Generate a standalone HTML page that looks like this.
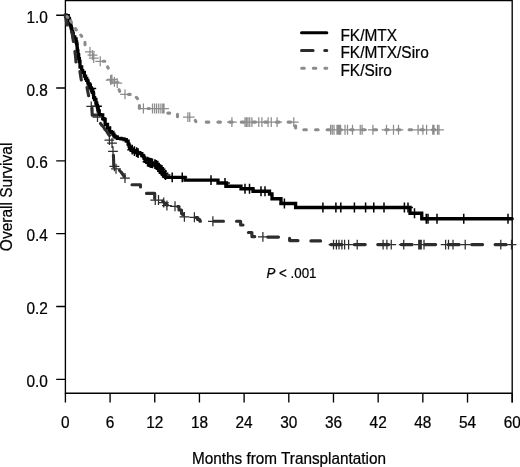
<!DOCTYPE html>
<html><head><meta charset="utf-8"><title>Overall Survival</title>
<style>html,body{margin:0;padding:0;background:#fff}body{width:520px;height:467px;overflow:hidden;position:relative}</style></head>
<body>
<svg width="520" height="467" viewBox="0 0 520 467" style="display:block;position:absolute;left:0;top:0">
<rect width="520" height="467" fill="#fff"/>
<g stroke="#000" stroke-width="1.35" fill="none">
<path d="M65.4 0.55H512.2M65.4 0V393.2H512.2M512.2 0V402.5"/>
<path d="M65.40 393.2V402.5M110.08 393.2V402.5M154.76 393.2V402.5M199.44 393.2V402.5M244.12 393.2V402.5M288.80 393.2V402.5M333.48 393.2V402.5M378.16 393.2V402.5M422.84 393.2V402.5M467.52 393.2V402.5M512.20 393.2V402.5"/>
<path d="M56.2 15.20H65.4M56.2 88.02H65.4M56.2 160.84H65.4M56.2 233.66H65.4M56.2 306.48H65.4M56.2 379.30H65.4"/>
</g>
<g font-family="'Liberation Sans', Arial, Helvetica, sans-serif" fill="#000" stroke="#000" stroke-width="0.22">
<text transform="translate(65.40 428.20) scale(1 1.035)" font-size="15.4" text-anchor="middle">0</text>
<text transform="translate(110.08 428.20) scale(1 1.035)" font-size="15.4" text-anchor="middle">6</text>
<text transform="translate(154.76 428.20) scale(1 1.035)" font-size="15.4" text-anchor="middle">12</text>
<text transform="translate(199.44 428.20) scale(1 1.035)" font-size="15.4" text-anchor="middle">18</text>
<text transform="translate(244.12 428.20) scale(1 1.035)" font-size="15.4" text-anchor="middle">24</text>
<text transform="translate(288.80 428.20) scale(1 1.035)" font-size="15.4" text-anchor="middle">30</text>
<text transform="translate(333.48 428.20) scale(1 1.035)" font-size="15.4" text-anchor="middle">36</text>
<text transform="translate(378.16 428.20) scale(1 1.035)" font-size="15.4" text-anchor="middle">42</text>
<text transform="translate(422.84 428.20) scale(1 1.035)" font-size="15.4" text-anchor="middle">48</text>
<text transform="translate(467.52 428.20) scale(1 1.035)" font-size="15.4" text-anchor="middle">54</text>
<text transform="translate(512.20 428.20) scale(1 1.035)" font-size="15.4" text-anchor="middle">60</text>
<text transform="translate(37.10 22.80) scale(1 1.035)" font-size="15.4" text-anchor="middle">1.0</text>
<text transform="translate(37.10 95.62) scale(1 1.035)" font-size="15.4" text-anchor="middle">0.8</text>
<text transform="translate(37.10 168.44) scale(1 1.035)" font-size="15.4" text-anchor="middle">0.6</text>
<text transform="translate(37.10 241.26) scale(1 1.035)" font-size="15.4" text-anchor="middle">0.4</text>
<text transform="translate(37.10 314.08) scale(1 1.035)" font-size="15.4" text-anchor="middle">0.2</text>
<text transform="translate(37.10 386.90) scale(1 1.035)" font-size="15.4" text-anchor="middle">0.0</text>
<text transform="translate(289.00 463.50) scale(1 1.035)" font-size="15.3" text-anchor="middle">Months from Transplantation</text>
<text transform="translate(12.10 196.90) rotate(-90) scale(1 1.035)" font-size="15.5" text-anchor="middle">Overall Survival</text>
<text transform="translate(340.40 40.90) scale(1 1.035)" font-size="15.45" text-anchor="start">FK/MTX</text>
<text transform="translate(340.40 58.20) scale(1 1.035)" font-size="15.45" text-anchor="start">FK/MTX/Siro</text>
<text transform="translate(340.40 75.50) scale(1 1.035)" font-size="15.45" text-anchor="start">FK/Siro</text>
<text transform="translate(266.40 277.90) scale(1 1.035)" font-size="13.35" text-anchor="start"><tspan font-style="italic">P</tspan> &lt; .001</text>
</g>
<g fill="none" stroke-width="3" stroke-linecap="round">
<path d="M301.5 32.85H326.8" stroke="#000"/>
<path d="M301.5 50.5H326.8" stroke="#2d2d2d" stroke-dasharray="11.6 11.6"/>
<path d="M301.7 68.2H326.8" stroke="#8c8c8c" stroke-dasharray="2.6 9"/>
</g>
<g fill="none" stroke-width="3.1" stroke-linecap="round" stroke-linejoin="round">
<path d="M65.10 15.10 H66.20 V15.60 H67.30 H68.25 V18.50 H69.20 H69.45 V20.30 H69.71 H69.79 V23.90 H69.88 H70.24 V25.00 H70.60 H70.88 V26.80 H71.17 H71.34 V28.60 H71.52 H71.91 V31.50 H72.30 H72.68 V33.30 H73.06 H73.21 V36.90 H73.35 H73.47 V37.00 H73.60 H74.73 V38.80 H75.86 H76.08 V42.00 H76.30 H76.63 V43.80 H76.95 H77.03 V45.60 H77.11 H77.15 V49.00 H77.20 H77.41 V50.80 H77.62 H77.91 V54.40 H78.19 H78.24 V55.00 H78.30 H78.68 V58.60 H79.06 H79.33 V61.50 H79.60 H80.00 V66.90 H80.40 H80.85 V67.00 H81.30 H81.65 V70.60 H82.01 H82.65 V72.50 H83.30 H84.32 V76.10 H85.35 H85.57 V78.50 H85.80 H86.73 V80.30 H87.67 H87.80 V82.10 H87.93 H88.22 V84.00 H88.50 H89.62 V87.60 H90.75 H91.12 V88.80 H91.50 H91.77 V90.60 H92.04 H92.65 V92.40 H93.26 H93.38 V94.00 H93.50 H93.63 V97.60 H93.76 H94.63 V99.50 H95.50 H95.91 V103.10 H96.31 H96.76 V105.50 H97.20 H97.51 V107.30 H97.81 H98.26 V111.00 H98.70 H99.25 V114.60 H99.80 H100.65 V115.00 H101.50 H102.70 V118.60 H103.89 H104.10 V119.50 H104.30 H105.15 V124.50 H106.00 H107.50 V128.00 H109.00 H109.66 V131.60 H110.32 H111.41 V132.30 H112.50 H112.85 V134.10 H113.20 H113.86 V135.90 H114.51 H115.00 V137.00 H115.50 H117.25 V138.30 H119.00 H121.00 V138.80 H123.00 H124.00 V139.70 H125.00 H126.25 V141.20 H127.50 H128.12 V144.20 H128.75 H129.04 V146.00 H129.33 H129.67 V147.45 H130.00 H131.25 V149.20 H132.50 H133.01 V151.00 H133.53 H134.26 V151.20 H135.00 H136.50 V152.70 H138.00 H139.62 V153.70 H141.25 H141.80 V155.50 H142.35 H143.05 V156.20 H143.75 H143.91 V158.00 H144.07 H144.78 V159.20 H145.50 H145.73 V161.00 H145.97 H146.73 V162.45 H147.50 H149.25 V163.20 H151.00 H153.00 V164.95 H155.00 H156.25 V165.70 H157.50 H158.50 V168.20 H159.50 H160.38 V170.50 H161.25 H161.88 V173.00 H162.50 H163.50 V176.00 H164.50 H165.50 V177.30 H166.50 H170.00 V177.30 H185.00 V177.30 H185.00 V180.10 H218.00 V180.10 H218.00 V183.00 H226.50 V183.00 H226.50 V186.25 H241.00 V186.25 H241.00 V188.75 H253.00 V188.75 H253.00 V191.25 H269.50 V191.25 H269.50 V194.00 H272.00 V194.00 H272.00 V198.75 H281.00 V198.75 H281.00 V203.50 H295.60 V203.50 H295.60 V207.50 H410.00 V207.50 H410.00 V213.25 H421.75 V213.25 H421.75 V218.75 H512.20 V218.75" stroke="#000" stroke-width="3.3" stroke-linejoin="miter"/>
</g>
<path d="M86.40 88.50h9.8M91.30 83.60v9.8M92.10 106.30h9.8M97.00 101.40v9.8M127.30 149.70h9.8M132.20 144.80v9.8M129.50 151.20h9.8M134.40 146.30v9.8M131.70 152.20h9.8M136.60 147.30v9.8M133.20 153.20h9.8M138.10 148.30v9.8M142.60 161.70h9.8M147.50 156.80v9.8M143.70 162.20h9.8M148.60 157.30v9.8M144.90 162.60h9.8M149.80 157.70v9.8M146.10 163.00h9.8M151.00 158.10v9.8M147.60 163.40h9.8M152.50 158.50v9.8M150.00 164.20h9.8M154.90 159.30v9.8M151.40 165.00h9.8M156.30 160.10v9.8M152.90 165.70h9.8M157.80 160.80v9.8M154.30 167.70h9.8M159.20 162.80v9.8M155.60 169.20h9.8M160.50 164.30v9.8M157.10 171.20h9.8M162.00 166.30v9.8M158.60 173.20h9.8M163.50 168.30v9.8M160.60 175.00h9.8M165.50 170.10v9.8M167.30 177.30h9.8M172.20 172.40v9.8M177.35 177.30h9.8M182.25 172.40v9.8M206.10 180.10h9.8M211.00 175.20v9.8M220.10 183.00h9.8M225.00 178.10v9.8M240.10 188.75h9.8M245.00 183.85v9.8M244.60 188.75h9.8M249.50 183.85v9.8M256.10 191.25h9.8M261.00 186.35v9.8M260.10 191.25h9.8M265.00 186.35v9.8M279.50 203.50h9.8M284.40 198.60v9.8M318.00 207.50h9.8M322.90 202.60v9.8M331.00 207.50h9.8M335.90 202.60v9.8M335.90 207.50h9.8M340.80 202.60v9.8M349.50 207.50h9.8M354.40 202.60v9.8M360.70 207.50h9.8M365.60 202.60v9.8M368.85 207.50h9.8M373.75 202.60v9.8M379.10 207.50h9.8M384.00 202.60v9.8M399.50 207.50h9.8M404.40 202.60v9.8M403.10 207.50h9.8M408.00 202.60v9.8M409.60 213.25h9.8M414.50 208.35v9.8M421.35 218.75h9.8M426.25 213.85v9.8M423.10 218.75h9.8M428.00 213.85v9.8M432.10 218.75h9.8M437.00 213.85v9.8M458.85 218.75h9.8M463.75 213.85v9.8M503.10 218.75h9.8M508.00 213.85v9.8" stroke="#000" stroke-width="1.5" fill="none"/>
<g fill="none" stroke-width="3.1" stroke-linecap="round" stroke-linejoin="round">
<path d="M65.10 15.10 L66.00 19.00 L67.00 25.00M71.90 32.00 L72.60 36.00 L73.40 41.50M74.90 51.50 L75.50 56.00 L76.00 62.00M79.90 71.50 L81.30 80.00M87.00 87.50 L88.60 95.80M92.00 108.00 L92.20 115.10 L96.30 115.10M100.50 123.50 L102.00 125.50 L103.50 127.00 L105.00 129.50 L106.50 131.00 L108.00 133.50 L109.50 135.50M113.40 155.30 L113.60 160.00 L113.80 166.80M119.50 170.50 L121.00 172.00 L122.50 174.00 L124.30 176.50M132.00 184.75 L140.50 184.75 L140.50 187.00M146.50 193.40 L154.70 193.40 L154.70 198.50M162.70 201.20 L164.00 202.50 L165.80 204.00 L167.30 204.80M177.70 206.50 L179.00 206.50 L179.00 210.00 L181.50 210.00 L181.50 213.50 L182.80 213.50 L182.80 215.00M195.90 217.50 L197.50 217.50 L197.50 219.50 L199.80 219.50 L199.80 221.25 L200.50 221.25M214.00 221.25 L223.50 221.25M236.50 221.25 L240.60 221.25 L240.60 225.00 L243.00 225.00M248.40 232.50 L251.90 232.50 L251.90 236.60 L254.80 236.60M267.70 237.10 L278.50 237.10M289.60 238.30 L289.60 240.60 L298.00 240.60M310.90 240.90 L320.60 240.90M330.80 244.60 L341.80 244.60M354.27 244.60 L365.27 244.60M377.74 244.60 L388.74 244.60M401.21 244.60 L412.21 244.60M424.68 244.60 L435.68 244.60M448.15 244.60 L459.15 244.60M471.62 244.60 L482.62 244.60M495.09 244.60 L506.09 244.60" stroke="#2d2d2d"/>
</g>
<path d="M86.35 106.30h9.8M91.25 101.40v9.8M92.60 117.00h9.8M97.50 112.10v9.8M104.50 140.00h9.8M109.40 135.10v9.8M107.10 143.00h9.8M112.00 138.10v9.8M108.10 151.25h9.8M113.00 146.35v9.8M109.50 166.25h9.8M114.40 161.35v9.8M111.10 168.75h9.8M116.00 163.85v9.8M120.10 178.00h9.8M125.00 173.10v9.8M150.35 200.00h9.8M155.25 195.10v9.8M153.60 200.00h9.8M158.50 195.10v9.8M158.85 202.50h9.8M163.75 197.60v9.8M162.00 205.50h9.8M166.90 200.60v9.8M170.10 206.25h9.8M175.00 201.35v9.8M179.50 216.90h9.8M184.40 212.00v9.8M189.50 217.25h9.8M194.40 212.35v9.8M208.00 221.25h9.8M212.90 216.35v9.8M258.00 236.90h9.8M262.90 232.00v9.8M328.60 244.60h9.8M333.50 239.70v9.8M331.50 244.60h9.8M336.40 239.70v9.8M334.10 244.60h9.8M339.00 239.70v9.8M337.00 244.60h9.8M341.90 239.70v9.8M339.70 244.60h9.8M344.60 239.70v9.8M343.70 244.60h9.8M348.60 239.70v9.8M352.30 244.60h9.8M357.20 239.70v9.8M378.20 244.60h9.8M383.10 239.70v9.8M382.00 244.60h9.8M386.90 239.70v9.8M386.35 244.60h9.8M391.25 239.70v9.8M398.85 244.60h9.8M403.75 239.70v9.8M413.85 244.60h9.8M418.75 239.70v9.8M415.10 244.60h9.8M420.00 239.70v9.8M416.35 244.60h9.8M421.25 239.70v9.8M419.10 244.60h9.8M424.00 239.70v9.8M440.70 244.60h9.8M445.60 239.70v9.8M443.60 244.60h9.8M448.50 239.70v9.8M448.10 244.60h9.8M453.00 239.70v9.8M460.30 244.60h9.8M465.20 239.70v9.8M495.90 244.60h9.8M500.80 239.70v9.8M506.60 244.60h9.8M511.50 239.70v9.8" stroke="#2d2d2d" stroke-width="1.25" fill="none"/>
<g fill="none" stroke-width="3.1" stroke-linecap="round" stroke-linejoin="round">
<path d="M67.20 16.60L67.80 17.40M70.60 20.90L71.40 22.10M75.50 28.60L76.30 29.90M80.80 35.20L81.70 36.30M85.00 42.40L85.00 44.80M103.20 61.25L104.80 61.25M107.60 66.80L108.20 68.20M119.10 89.80L119.70 91.40M128.60 94.40L130.20 94.40M136.30 97.30L137.50 98.60M139.40 105.60L139.40 108.20M148.20 108.50L149.30 108.50M167.80 113.10L169.70 113.10M177.50 114.40L177.50 116.80M195.30 120.40L195.90 121.60M295.60 125.80L295.60 128.00" stroke="#8c8c8c"/>
<path d="M206.20 122.10L292.00 122.10M303.80 129.75L440.00 129.75" stroke="#8c8c8c" stroke-dasharray="2.6 9.1"/>
</g>
<path d="M85.10 51.90h9.8M90.00 47.00v9.8M87.60 55.00h9.8M92.50 50.10v9.8M88.85 58.00h9.8M93.75 53.10v9.8M95.35 61.25h9.8M100.25 56.35v9.8M105.70 80.00h9.8M110.60 75.10v9.8M107.00 79.40h9.8M111.90 74.50v9.8M109.50 81.90h9.8M114.40 77.00v9.8M112.35 83.10h9.8M117.25 78.20v9.8M120.10 94.40h9.8M125.00 89.50v9.8M138.50 108.50h9.8M143.40 103.60v9.8M147.60 108.50h9.8M152.50 103.60v9.8M149.70 108.50h9.8M154.60 103.60v9.8M151.70 108.50h9.8M156.60 103.60v9.8M153.85 108.50h9.8M158.75 103.60v9.8M156.00 108.50h9.8M160.90 103.60v9.8M157.85 108.50h9.8M162.75 103.60v9.8M159.10 108.50h9.8M164.00 103.60v9.8M183.00 117.10h9.8M187.90 112.20v9.8M184.85 117.10h9.8M189.75 112.20v9.8M227.00 122.10h9.8M231.90 117.20v9.8M240.10 122.10h9.8M245.00 117.20v9.8M241.60 122.10h9.8M246.50 117.20v9.8M243.10 122.10h9.8M248.00 117.20v9.8M244.85 122.10h9.8M249.75 117.20v9.8M247.00 122.10h9.8M251.90 117.20v9.8M253.85 122.10h9.8M258.75 117.20v9.8M257.00 122.10h9.8M261.90 117.20v9.8M263.20 122.10h9.8M268.10 117.20v9.8M266.35 122.10h9.8M271.25 117.20v9.8M272.20 122.10h9.8M277.10 117.20v9.8M288.85 122.10h9.8M293.75 117.20v9.8M325.70 129.75h9.8M330.60 124.85v9.8M327.35 129.75h9.8M332.25 124.85v9.8M329.10 129.75h9.8M334.00 124.85v9.8M332.10 129.75h9.8M337.00 124.85v9.8M333.30 129.75h9.8M338.20 124.85v9.8M334.50 129.75h9.8M339.40 124.85v9.8M335.70 129.75h9.8M340.60 124.85v9.8M340.10 129.75h9.8M345.00 124.85v9.8M342.60 129.75h9.8M347.50 124.85v9.8M347.60 129.75h9.8M352.50 124.85v9.8M355.35 129.75h9.8M360.25 124.85v9.8M357.20 129.75h9.8M362.10 124.85v9.8M368.00 129.75h9.8M372.90 124.85v9.8M381.60 129.75h9.8M386.50 124.85v9.8M388.60 129.75h9.8M393.50 124.85v9.8M393.60 129.75h9.8M398.50 124.85v9.8M413.20 129.75h9.8M418.10 124.85v9.8M418.00 129.75h9.8M422.90 124.85v9.8M421.70 129.75h9.8M426.60 124.85v9.8M427.85 129.75h9.8M432.75 124.85v9.8M429.10 129.75h9.8M434.00 124.85v9.8M432.60 129.75h9.8M437.50 124.85v9.8M434.10 129.75h9.8M439.00 124.85v9.8" stroke="#8c8c8c" stroke-width="1.25" fill="none"/>
</svg>
</body></html>
